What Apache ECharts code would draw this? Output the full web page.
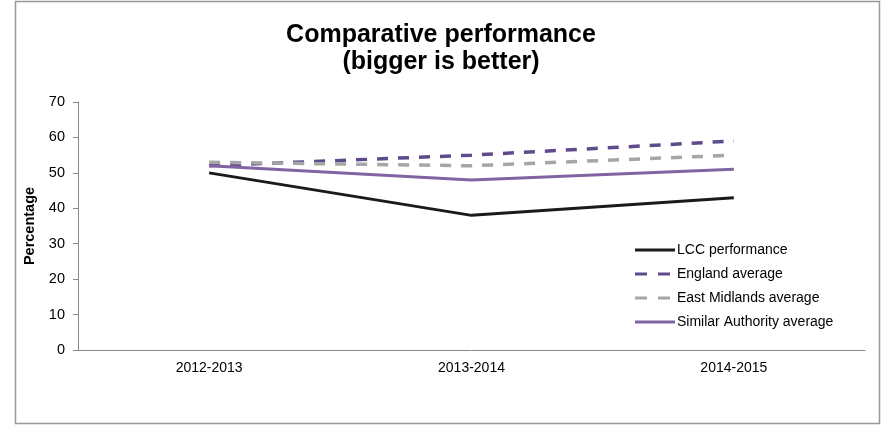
<!DOCTYPE html>
<html><head><meta charset="utf-8">
<script src="https://cdn.jsdelivr.net/npm/echarts@6/dist/echarts.min.js"></script>
<style>html,body{margin:0;padding:0;background:#fff}#c{width:882px;height:425px}</style>
</head><body><div id="c"></div>
<script>
var categories = ['2012-2013', '2013-2014', '2014-2015'];
var lccPerformance = [50, 38, 43];
var englandAverage = [52, 55, 59];
var eastMidlandsAverage = [53, 52, 55];
var similarAuthorityAverage = [52, 48, 51];
var yTicks = [0, 10, 20, 30, 40, 50, 60, 70];

var chart = echarts.init(document.getElementById('c'), null, {renderer: 'canvas'});
var font = 'Arial, "Liberation Sans", sans-serif';
var solidIcon = 'path://M0,0 L40,0 L40,3 L0,3 Z';
var dashIcon = 'path://M0,0 L12,0 L12,3 L0,3 Z M23,0 L35,0 L35,3 L23,3 Z M39.9,1.4 L40,1.4 L40,1.6 L39.9,1.6 Z';
chart.setOption({
  animation: false,
  backgroundColor: '#fff',
  graphic: [{
    type: 'rect', shape: {x: 15.5, y: 1.5, width: 864, height: 422},
    style: {fill: 'none', stroke: '#999', lineWidth: 1.5}, silent: true
  }],
  title: {
    text: 'Comparative performance\n(bigger is better)',
    left: 'center', top: 17,
    textStyle: {fontFamily: font, fontSize: 25, fontWeight: 'bold', color: '#000', lineHeight: 27}
  },
  legend: {
    orient: 'vertical', left: 635, top: 243, itemGap: 10, padding: 0,
    itemWidth: 40, itemHeight: 14,
    textStyle: {fontFamily: font, fontSize: 14, color: '#000', padding: [0, 0, 0, -3]},
    data: [
      {name: 'LCC performance', icon: solidIcon},
      {name: 'England average', icon: dashIcon},
      {name: 'East Midlands average', icon: dashIcon},
      {name: 'Similar Authority average', icon: solidIcon}
    ]
  },
  grid: {left: 78, right: 17, top: 102, bottom: 75},
  xAxis: {
    type: 'category', data: categories, boundaryGap: true,
    axisLine: {lineStyle: {color: '#888', width: 1}},
    axisTick: {show: false},
    axisLabel: {fontFamily: font, fontSize: 14, color: '#000', margin: 11}
  },
  yAxis: {
    type: 'value', min: yTicks[0], max: yTicks[yTicks.length - 1], interval: 10,
    name: 'Percentage', nameLocation: 'middle', nameGap: 40, nameRotate: 90,
    nameTextStyle: {fontFamily: font, fontSize: 14.5, fontWeight: 'bold', color: '#000'},
    axisLine: {show: true, lineStyle: {color: '#888', width: 1}},
    axisTick: {show: true, length: 5, lineStyle: {color: '#888'}},
    splitLine: {show: false},
    axisLabel: {fontFamily: font, fontSize: 14.5, color: '#000', margin: 13}
  },
  series: [
    {name: 'LCC performance', type: 'line', data: lccPerformance, symbol: 'none',
     lineStyle: {color: '#1a1a1a', width: 3}, itemStyle: {color: '#1a1a1a'}},
    {name: 'England average', type: 'line', data: englandAverage, symbol: 'none',
     lineStyle: {color: '#5f4b8b', width: 3.5, type: [11, 10]}, itemStyle: {color: '#5f4b8b'}},
    {name: 'East Midlands average', type: 'line', data: eastMidlandsAverage, symbol: 'none',
     lineStyle: {color: '#a6a6a6', width: 3.5, type: [11, 10]}, itemStyle: {color: '#a6a6a6'}},
    {name: 'Similar Authority average', type: 'line', data: similarAuthorityAverage, symbol: 'none',
     lineStyle: {color: '#8064a2', width: 3}, itemStyle: {color: '#8064a2'}}
  ]
});
</script></body></html>
